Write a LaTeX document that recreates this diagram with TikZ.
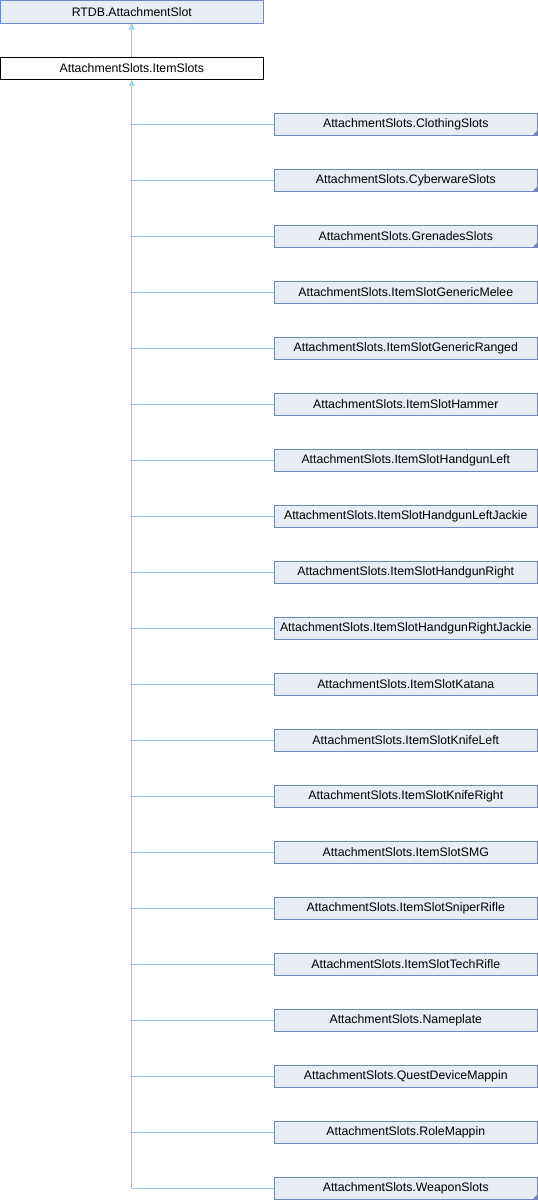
\documentclass[tikz,border=0pt]{standalone}
\usepackage{fontspec}
\setmainfont{Liberation Sans}
\usetikzlibrary{arrows.meta}
\definecolor{boxfill}{HTML}{E8ECF5}
\definecolor{boxline}{HTML}{7088C0}
\definecolor{edge}{HTML}{8DC6EA}
\begin{document}
\begin{tikzpicture}[x=1pt,y=1pt,
  cls/.style={draw=boxline, fill=boxfill, line width=0.9pt, minimum width=263pt, minimum height=22.5pt, inner sep=0pt, font=\fontsize{12.3}{14}\selectfont},
  cur/.style={cls, draw=black, fill=white},
  conn/.style={draw=edge, line width=1pt},
  inh/.style={conn, {Triangle[length=6pt, width=6pt, line width=0.6pt, fill=edge!65!white]}-},
  more/.style={path picture={\fill[boxline] (path picture bounding box.south east) -- ++(-5pt,0) -- ++(5pt,5pt) -- cycle;}}
]
\useasboundingbox (0,0) rectangle (538,-1200);
\node[cls] (base) at (131.8,-12) {RTDB.AttachmentSlot};
\node[cur] (item) at (131.8,-68.5) {AttachmentSlots.ItemSlots};
\draw[inh] (base.south) -- (item.north);
\foreach \n/\name/\m [count=\i from 0] in {
  c0/ClothingSlots/1, c1/CyberwareSlots/1, c2/GrenadesSlots/1,
  c3/ItemSlotGenericMelee/0, c4/ItemSlotGenericRanged/0, c5/ItemSlotHammer/0,
  c6/ItemSlotHandgunLeft/0, c7/ItemSlotHandgunLeftJackie/0, c8/ItemSlotHandgunRight/0,
  c9/ItemSlotHandgunRightJackie/0, c10/ItemSlotKatana/0, c11/ItemSlotKnifeLeft/0,
  c12/ItemSlotKnifeRight/0, c13/ItemSlotSMG/0, c14/ItemSlotSniperRifle/0,
  c15/ItemSlotTechRifle/0, c16/Nameplate/0, c17/QuestDeviceMappin/0,
  c18/RoleMappin/0, c19/WeaponSlots/1} {
  \pgfmathsetmacro{\yy}{-124.3-56*\i}
  \ifnum\m=1
    \node[cls, more] (\n) at (405.8,\yy) {AttachmentSlots.\name};
  \else
    \node[cls] (\n) at (405.8,\yy) {AttachmentSlots.\name};
  \fi
  \draw[conn] (\n.west) -- (item.south |- \n.west);
}
\draw[inh] (item.south) -- (item.south |- c19.west);
\end{tikzpicture}
\end{document}
